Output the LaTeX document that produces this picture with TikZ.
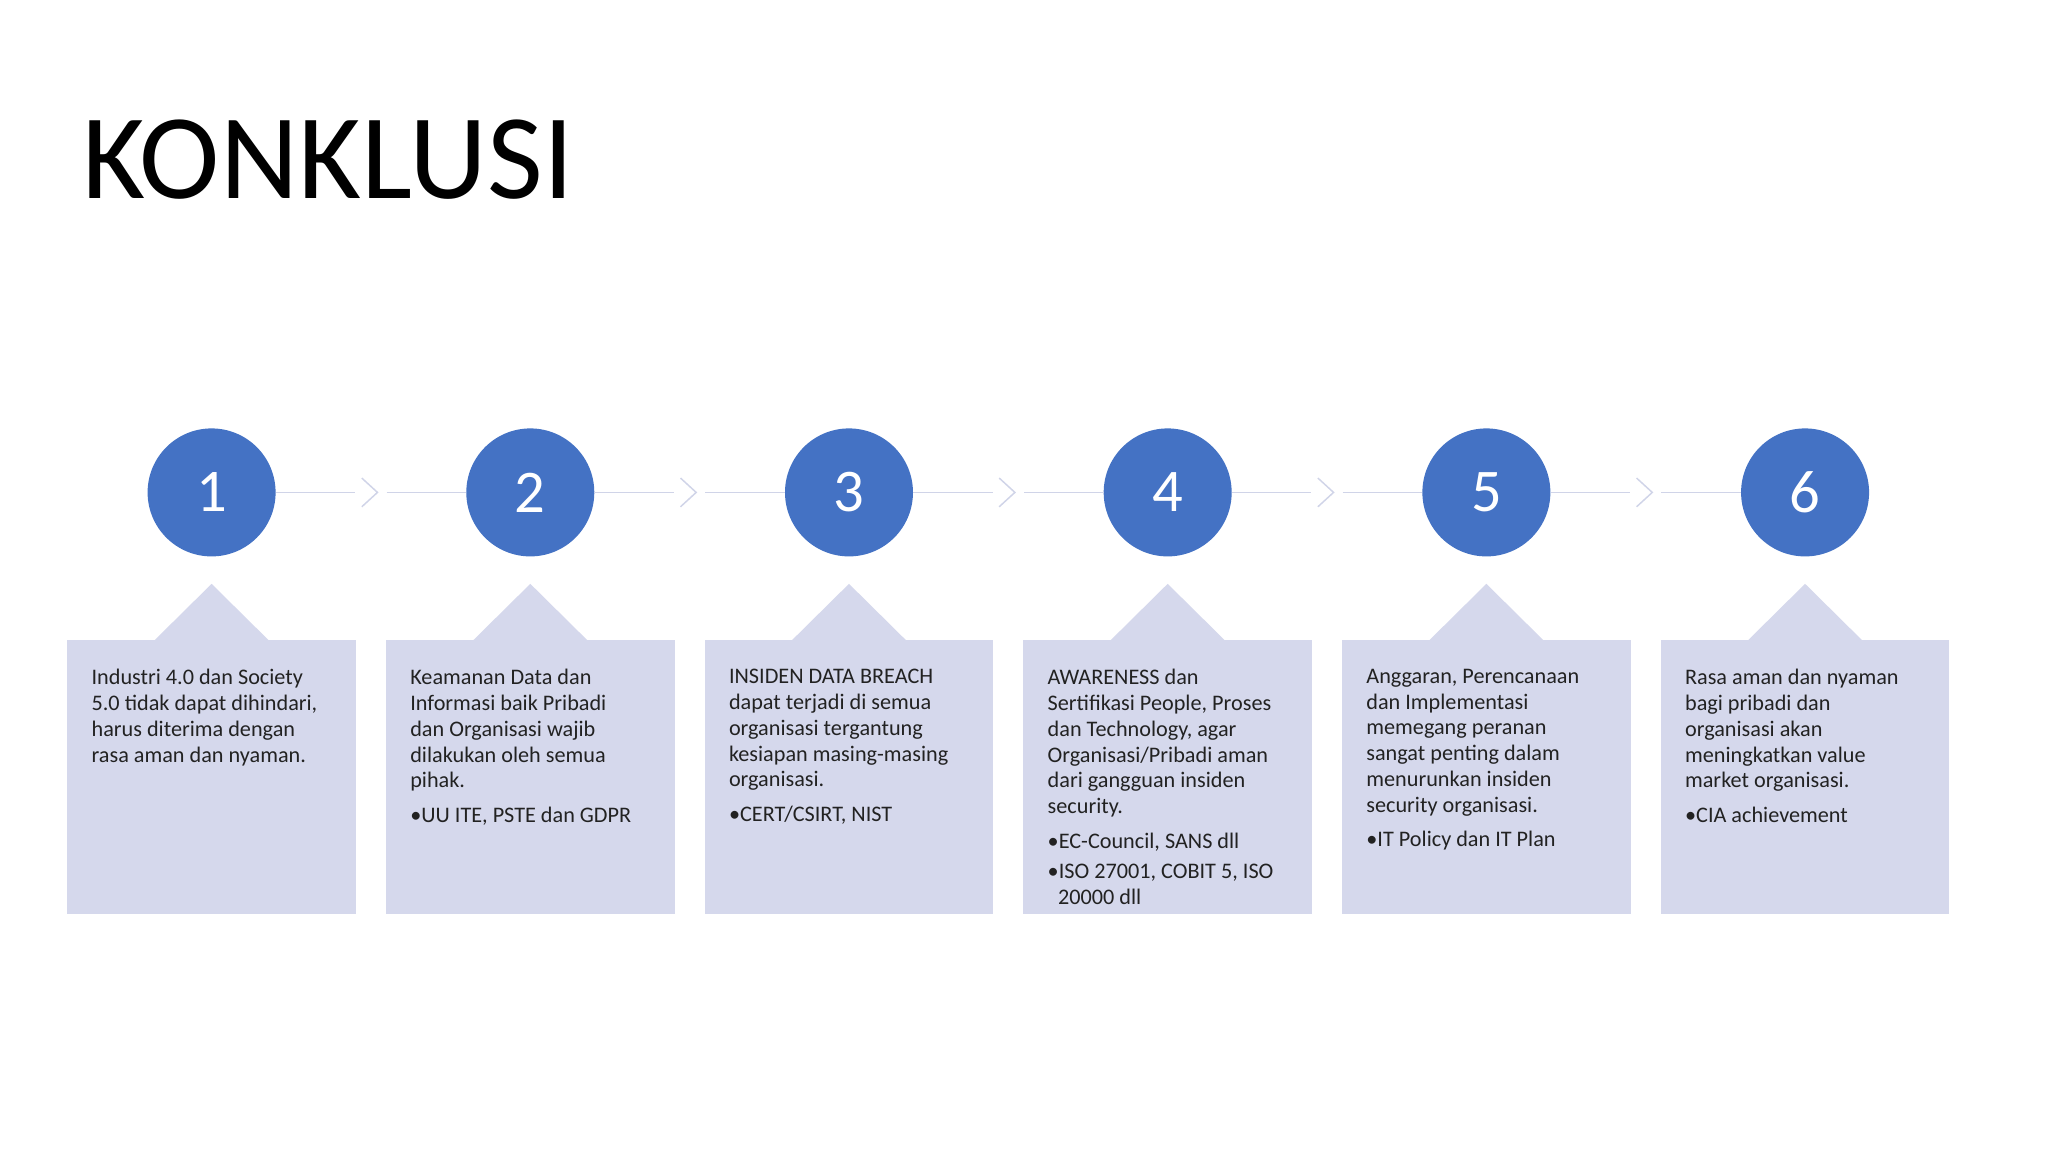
\documentclass[tikz,border=0pt]{standalone}
\usepackage{fontspec}
\setmainfont{Carlito}
\definecolor{cblue}{HTML}{4472C4}
\definecolor{cbox}{HTML}{D5D8EC}
\definecolor{cline}{HTML}{D0D4E8}
\definecolor{ctext}{HTML}{222222}
\begin{document}
\begin{tikzpicture}[x=0.05cm,y=-0.05cm,
  num/.style={circle,fill=cblue,minimum size=4.9cm,inner sep=0pt,text=white,font=\fontsize{66pt}{66pt}\selectfont},
  txt/.style={anchor=north west,align=left,inner sep=0pt,text=ctext,font=\fontsize{24.2pt}{28.2pt}\selectfont},
  conn/.style={draw=cline,line width=1.6pt},
  chev/.style={draw=cline,line width=1.6pt,line join=miter}]
\useasboundingbox (0,0) rectangle (1568,882);
\fill[white] (0,0) rectangle (1568,882);
\node[anchor=base west,inner sep=0pt,font=\fontsize{132pt}{132pt}\selectfont] (title) at (63,152) {KONKLUSI};
\foreach \i/\x in {1/162,2/406,3/650,4/894,5/1138,6/1382}{
  \fill[cbox] (\x-110.5,490) rectangle (\x+110.5,700);
  \fill[cbox] (\x-44,490.5) -- (\x,447) -- (\x+44,490.5) -- cycle;
  \node[num] (c\i) at (\x,377) {\i};
}
\foreach \a/\b/\x in {1/2/283,2/3/527,3/4/771,4/5/1015,5/6/1259}{
  \coordinate (l\a) at (\x-11,377);
  \coordinate (r\a) at (\x+13,377);
  \draw[conn] (c\a) -- (l\a);
  \draw[conn] (r\a) -- (c\b);
  \draw[chev] (\x-6,366) -- (\x+6,377) -- (\x-6,388);
}
\node[txt] (t1) at (70,512) {Industri 4.0 dan Society\\5.0 tidak dapat dihindari,\\harus diterima dengan\\rasa aman dan nyaman.};
\node[txt] (t2) at (314,512) {Keamanan Data dan\\Informasi baik Pribadi\\dan Organisasi wajib\\dilakukan oleh semua\\pihak.\\[0.32cm]•UU ITE, PSTE dan GDPR};
\node[txt] (t3) at (558,512) {INSIDEN DATA BREACH\\dapat terjadi di semua\\organisasi tergantung\\kesiapan masing-masing\\organisasi.\\[0.32cm]•CERT/CSIRT, NIST};
\node[txt] (t4) at (802,512) {AWARENESS dan\\Sertifikasi People, Proses\\dan Technology, agar\\Organisasi/Pribadi aman\\dari gangguan insiden\\security.\\[0.32cm]•EC-Council, SANS dll\\[0.18cm]•ISO 27001, COBIT 5, ISO\\\hspace*{0.4cm}20000 dll};
\node[txt] (t5) at (1046,512) {Anggaran, Perencanaan\\dan Implementasi\\memegang peranan\\sangat penting dalam\\menurunkan insiden\\security organisasi.\\[0.32cm]•IT Policy dan IT Plan};
\node[txt] (t6) at (1290,512) {Rasa aman dan nyaman\\bagi pribadi dan\\organisasi akan\\meningkatkan value\\market organisasi.\\[0.32cm]•CIA achievement};
\end{tikzpicture}
\end{document}
